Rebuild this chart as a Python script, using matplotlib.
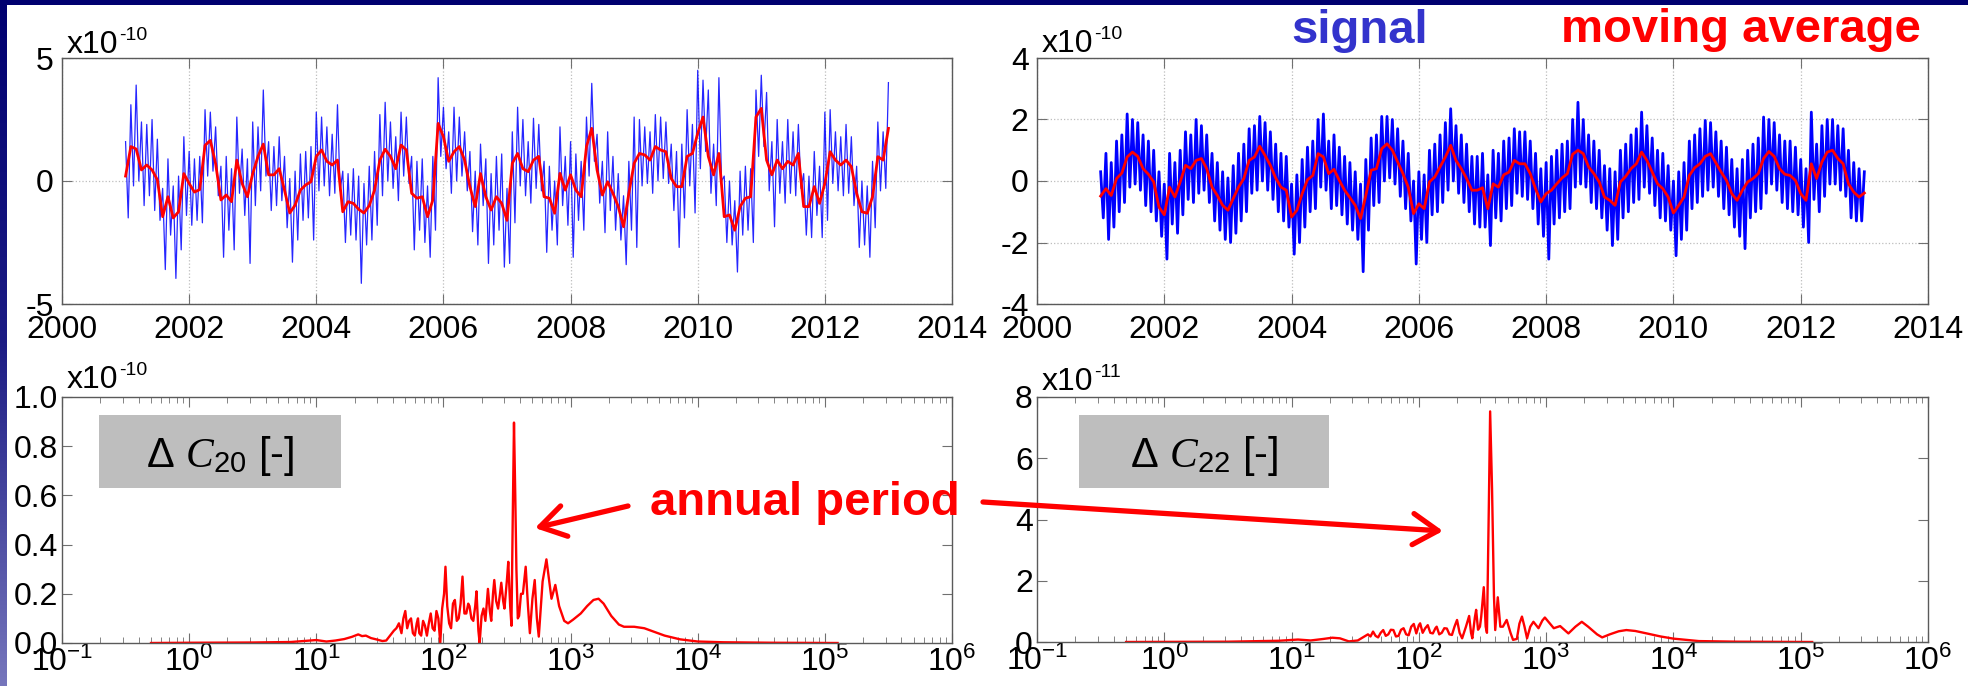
import numpy as np
import matplotlib
matplotlib.use("Agg")
import matplotlib.pyplot as plt
from matplotlib.patches import Rectangle
from matplotlib.colors import LinearSegmentedColormap
from matplotlib.ticker import FormatStrFormatter, LogLocator, NullFormatter

plt.rcParams['font.family'] = ['Liberation Sans', 'DejaVu Sans']
plt.rcParams['mathtext.fontset'] = 'custom'
plt.rcParams['mathtext.rm'] = 'Liberation Sans'
plt.rcParams['mathtext.it'] = 'Liberation Serif:italic'
plt.rcParams['mathtext.bf'] = 'Liberation Sans:bold'
plt.rcParams['axes.unicode_minus'] = False

# ---------------- data ----------------
year_ticks = [2000, 2002, 2004, 2006, 2008, 2010, 2012, 2014]
start_year = 2001

# Delta C20 signal, half-monthly samples, units 1e-10
sig_c20 = [
    1.6, -1.5, 3.1, -0.2, 3.9, 0.0, 2.4, -1.0, 2.3, -0.6, 2.5, -1.2, 1.7, -1.6, -0.3, -3.6, 0.9, -2.2, -0.2, -3.96, 0.2, -2.8, 1.8, -1.4,
    1.2, -1.8, 0.9, -1.6, 1.0, -1.7, 2.9, 0.2, 2.8, 0.4, 2.2, -0.6, 0.6, -3.1, 1.0, -2.0, 0.5, -2.8, 2.6, -0.5, 1.3, -1.4, 0.9, -3.35,
    2.4, -1.0, 2.2, -0.4, 3.7, 0.2, 1.6, -1.2, 1.4, -1.0, 1.8, -0.8, 1.0, -1.9, 0.1, -3.3, 0.4, -2.4, 1.1, -1.6, 1.2, -1.5, 1.4, -2.4,
    2.8, -0.4, 2.6, -0.2, 2.2, -0.6, 1.9, -0.5, 3.1, -0.4, 0.4, -2.5, 0.3, -2.2, 0.5, -2.4, 0.2, -4.16, -0.1, -2.6, 0.6, -2.4, 1.2, -1.8,
    2.7, -0.6, 3.2, 0.0, 2.4, -0.3, 1.8, -0.8, 2.8, 0.2, 2.6, -0.1, 1.0, -2.8, 0.8, -2.0, 0.9, -2.5, -0.2, -3.1, 1.0, -2.0, 4.2, 1.0,
    3.0, 0.5, 2.0, -0.5, 3.0, 0.0, 2.6, 0.2, 2.0, -0.4, 1.2, -2.06, 0.4, -2.6, 1.5, -1.0, 0.9, -3.35, 0.3, -2.6, 1.0, -2.0, 1.1, -3.5,
    -0.3, -3.35, 2.0, -1.7, 3.0, -0.2, 2.5, -0.6, 1.6, -0.9, 2.55, -0.3, 2.3, -0.4, 0.8, -2.9, 0.6, -2.0, 0.0, -2.6, 2.2, -1.0, 1.0, -1.8,
    1.6, -3.1, 1.1, -1.6, 0.8, -2.0, 2.6, 0.2, 3.97, 0.8, 1.9, -0.9, 0.8, -2.1, 2.0, -1.2, 1.0, -2.0, 0.3, -2.4, -0.6, -3.4, 0.8, -2.0,
    2.6, -2.7, 2.5, -0.2, 2.2, -0.1, 2.0, -0.5, 2.7, 0.0, 2.6, 0.1, 2.4, -0.1, 1.5, -1.2, 1.2, -2.7, 1.5, -1.5, 2.9, -0.2, 2.3, -1.3,
    4.5, 0.5, 4.1, 1.2, 3.7, -0.5, 1.5, -1.0, 4.2, 0.0, 0.2, -2.5, 0.0, -2.6, -0.8, -3.7, 0.4, -2.2, 0.6, -2.0, 0.5, -2.5, 3.7, 1.0,
    4.3, 1.4, 3.6, -0.4, 1.6, -1.86, 2.5, -0.5, 1.6, -0.9, 2.5, -0.5, 2.0, -0.6, 2.3, -0.3, 0.3, -2.2, 0.2, -2.3, 1.2, -1.4, 0.6, -2.3,
    2.8, -1.6, 2.9, -0.1, 2.0, -0.4, 1.8, -0.6, 2.3, -0.5, 1.8, -1.0, 0.6, -2.7, 0.0, -2.6, -0.2, -3.1, 0.8, -1.9, 2.4, -0.4, 2.0, -0.3,
    4.0]

# Delta C20 moving average, monthly samples, units 1e-10
ma_c20 = [
    0.2, 1.4, 1.3, 0.45, 0.65, 0.45, 0.05, -1.45, -0.64, -1.5, -1.25, 0.3,
    -0.1, -0.45, -0.35, 1.45, 1.65, 0.7, -0.77, -0.57, -0.84, 0.85, -0.1, -0.64,
    0.3, 1.0, 1.5, 0.25, 0.25, 0.5, -0.37, -1.3, -0.98, -0.37, -0.16, -0.03,
    1.0, 1.26, 0.8, 0.65, 0.85, -1.25, -0.84, -0.91, -1.15, -1.3, -1.0, -0.37,
    0.85, 1.29, 1.0, 0.5, 1.46, 1.26, -0.5, -0.7, -0.64, -1.45, -0.77, 2.34,
    1.8, 0.8, 1.19, 1.4, 0.85, -0.23, -1.04, 0.3, -0.64, -1.18, -0.64, -0.91,
    -1.6, 0.72, 1.12, 0.5, 0.38, 0.85, 1.0, -0.64, -0.7, -1.31, 0.31, -0.37,
    0.25, -0.37, -0.64, 1.4, 2.14, 0.45, -0.57, -0.03, -0.5, -1.04, -1.86, -0.5,
    0.72, 1.12, 1.06, 0.85, 1.4, 1.26, 1.19, 0.1, -0.23, -0.23, 1.0, 1.12,
    1.94, 2.6, 1.0, 0.25, 1.12, -1.45, -1.38, -2.0, -1.04, -0.7, -0.64, 2.6,
    2.95, 0.85, 0.25, 0.85, 0.5, 0.8, 0.65, 1.12, -1.04, -1.04, -0.23, -0.91,
    -0.1, 1.19, 0.85, 0.65, 0.85, 0.58, -0.5, -1.25, -1.31, -0.64, 0.99, 0.85,
    2.14]

# Delta C22 signal, half-monthly samples, units 1e-10
sig_c22 = [
    0.3, -1.2, 0.9, -1.9, 0.6, -1.5, 1.3, -1.0, 1.5, -0.7, 2.18, -0.2, 2.0, -0.1, 1.9, -0.3, 1.5, -0.8, 1.3, -1.0, 1.0, -1.3, 0.3, -1.8,
    -0.1, -2.54, 0.9, -1.4, 0.6, -1.7, 1.0, -1.1, 1.6, -0.6, 1.5, -0.7, 2.0, -0.4, 1.8, -0.3, 1.5, -0.7, 0.9, -1.3, 0.6, -1.6, 0.3, -1.9,
    0.1, -2.0, 0.5, -1.7, 0.9, -1.3, 1.2, -1.0, 1.7, -0.4, 1.8, -0.3, 2.1, 0.0, 1.9, -0.3, 1.6, -0.6, 1.2, -1.0, 0.9, -1.3, 0.8, -1.5,
    -0.1, -2.38, 0.2, -2.0, 0.7, -1.5, 1.1, -1.0, 1.3, -0.9, 2.0, -0.2, 2.18, -0.3, 1.3, -0.9, 1.5, -0.8, 1.1, -1.1, 0.8, -1.4, 0.6, -1.6,
    0.3, -1.9, -0.1, -2.95, 0.7, -1.6, 1.4, -0.8, 1.5, -0.7, 2.1, 0.0, 2.1, 0.1, 2.0, -0.1, 1.7, -0.5, 1.3, -0.9, 0.9, -1.3, 0.0, -2.7,
    0.3, -1.9, 0.2, -2.0, 1.0, -1.1, 1.2, -1.0, 1.5, -0.7, 1.9, -0.3, 2.35, 0.0, 1.8, -0.4, 1.5, -0.7, 1.2, -1.0, 0.8, -1.4, 0.8, -1.5,
    0.9, -1.5, 0.2, -2.1, 1.0, -1.2, 0.9, -1.3, 1.3, -0.9, 1.4, -0.8, 1.7, -0.4, 1.6, -0.5, 1.6, -0.6, 1.3, -0.9, 0.9, -1.4, 0.4, -1.8,
    0.6, -2.54, 0.8, -1.4, 1.0, -1.2, 1.2, -1.0, 1.3, -0.9, 2.0, -0.2, 2.56, -0.1, 2.0, -0.2, 1.5, -0.7, 1.3, -0.9, 1.0, -1.2, 0.5, -1.6,
    0.4, -2.1, 0.3, -1.9, 1.0, -1.2, 1.2, -1.0, 1.5, -0.7, 1.7, -0.6, 2.24, -0.2, 1.8, -0.4, 1.4, -0.8, 1.0, -1.2, 0.9, -1.3, 0.5, -1.6,
    0.0, -2.43, 0.3, -1.9, 0.6, -1.6, 1.3, -0.9, 1.5, -0.7, 1.7, -0.5, 1.97, -0.3, 1.9, -0.2, 1.6, -0.5, 1.3, -0.9, 1.1, -1.1, 0.7, -1.5,
    0.4, -1.8, 0.7, -2.2, 1.0, -1.2, 1.2, -1.0, 1.4, -0.9, 2.08, -0.4, 2.0, -0.1, 1.9, -0.3, 1.5, -0.7, 1.3, -0.9, 1.3, -1.0, 1.1, -1.1,
    0.7, -1.5, 0.4, -2.0, 2.24, -0.6, 1.2, -1.0, 1.8, -0.5, 2.0, -0.1, 2.0, -0.1, 1.8, -0.3, 1.7, -0.5, 1.0, -1.2, 0.6, -1.3, 0.4, -1.3,
    0.3]

# Delta C22 moving average, monthly samples, units 1e-10
ma_c22 = [
    -0.49, -0.25, -0.47, 0.08, 0.26, 0.78, 0.94, 0.8, 0.4, 0.22, -0.03, -0.85,
    -1.1, -0.2, -0.52, -0.03, 0.51, 0.4, 0.67, 0.73, 0.4, -0.2, -0.47, -0.79,
    -0.95, -0.57, -0.2, 0.08, 0.67, 0.78, 1.13, 0.83, 0.51, 0.1, -0.2, -0.3,
    -1.17, -0.95, -0.41, 0.04, 0.18, 0.89, 0.78, 0.24, 0.38, 0.02, -0.3, -0.54,
    -0.79, -1.22, -0.47, 0.35, 0.4, 1.05, 1.21, 1.0, 0.62, 0.24, -0.2, -1.06,
    -0.74, -0.9, -0.03, 0.13, 0.46, 0.78, 1.16, 0.67, 0.4, 0.08, -0.3, -0.3,
    -0.22, -0.9, -0.09, -0.2, 0.2, 0.29, 0.67, 0.56, 0.56, 0.24, -0.25, -0.68,
    -0.41, -0.3, -0.09, 0.1, 0.24, 0.87, 1.0, 0.89, 0.46, 0.24, -0.03, -0.52,
    -0.63, -0.79, -0.03, 0.15, 0.4, 0.56, 0.94, 0.67, 0.29, -0.09, -0.25, -0.52,
    -1.04, -0.79, -0.52, 0.18, 0.43, 0.56, 0.8, 0.89, 0.59, 0.29, 0.02, -0.41,
    -0.63, -0.3, -0.03, 0.08, 0.24, 0.73, 0.96, 0.8, 0.4, 0.22, 0.18, 0.02,
    -0.41, -0.63, 0.56, 0.08, 0.62, 0.94, 1.0, 0.73, 0.56, -0.09, -0.36, -0.52,
    -0.39]

# Spectrum of Delta C20: log10(period), amplitude (units 1e-10)
logp_c20 = [-0.3, 0.0, 0.5, 0.8, 0.9, 1.0, 1.08, 1.15, 1.22, 1.28, 1.33, 1.36, 1.39, 1.43, 1.47, 1.52, 1.55,
            1.58, 1.61, 1.63, 1.65, 1.67, 1.685, 1.70, 1.715, 1.73, 1.745, 1.76, 1.775, 1.79, 1.80, 1.81,
            1.825, 1.84, 1.855, 1.87, 1.885, 1.90, 1.915, 1.93, 1.945, 1.96, 1.975, 1.99, 2.005, 2.016,
            2.03, 2.045, 2.06, 2.075, 2.09, 2.105, 2.12, 2.135, 2.15, 2.165, 2.18, 2.195, 2.205, 2.22,
            2.235, 2.25, 2.26, 2.275, 2.285, 2.30, 2.315, 2.33, 2.35, 2.365, 2.376, 2.39, 2.40, 2.415,
            2.43, 2.445, 2.455, 2.47, 2.48, 2.50, 2.51, 2.525, 2.535, 2.545, 2.555, 2.565, 2.574, 2.585,
            2.595, 2.61, 2.625, 2.647, 2.665, 2.68, 2.70, 2.718, 2.735, 2.75, 2.78, 2.81, 2.83, 2.85,
            2.88, 2.91, 2.95, 2.98, 3.02, 3.08, 3.13, 3.18, 3.22, 3.26, 3.32, 3.38, 3.42, 3.50, 3.58,
            3.66, 3.74, 3.86, 4.0, 4.2, 4.6, 5.1]
amp_c20 = [0.0, 0.001, 0.002, 0.004, 0.008, 0.012, 0.006, 0.01, 0.016, 0.025, 0.035, 0.028, 0.03, 0.02, 0.015, 0.008, 0.01,
           0.03, 0.05, 0.06, 0.08, 0.04, 0.10, 0.13, 0.06, 0.09, 0.10, 0.04, 0.03, 0.08, 0.10, 0.04,
           0.03, 0.09, 0.07, 0.03, 0.08, 0.12, 0.06, 0.05, 0.13, 0.10, 0.0, 0.14, 0.20, 0.31,
           0.15, 0.08, 0.06, 0.16, 0.175, 0.09, 0.10, 0.16, 0.27, 0.12, 0.12, 0.16, 0.15, 0.10,
           0.09, 0.15, 0.21, 0.05, 0.0, 0.11, 0.14, 0.09, 0.22, 0.13, 0.09, 0.20, 0.256, 0.17,
           0.14, 0.20, 0.245, 0.17, 0.14, 0.26, 0.33, 0.15, 0.07, 0.50, 0.896, 0.60, 0.30, 0.10,
           0.11, 0.20, 0.20, 0.31, 0.15, 0.04, 0.18, 0.256, 0.10, 0.026, 0.25, 0.34, 0.26, 0.18,
           0.236, 0.15, 0.09, 0.08, 0.095, 0.12, 0.15, 0.175, 0.18, 0.16, 0.11, 0.075, 0.066, 0.066, 0.06,
           0.045, 0.03, 0.015, 0.006, 0.003, 0.001, 0.0]

# Spectrum of Delta C22: log10(period), amplitude (units 1e-11)
logp_c22 = [-0.3, 0.5, 0.9, 1.05, 1.15, 1.25, 1.32, 1.38, 1.45, 1.52, 1.56, 1.60, 1.62, 1.64, 1.66, 1.68,
            1.70, 1.72, 1.74, 1.76, 1.78, 1.80, 1.82, 1.84, 1.86, 1.88, 1.90, 1.92, 1.94, 1.96, 1.98,
            2.0, 2.01, 2.03, 2.05, 2.07, 2.09, 2.11, 2.13, 2.14, 2.16, 2.18, 2.20, 2.22, 2.24, 2.26,
            2.28, 2.30, 2.32, 2.34, 2.37, 2.395, 2.41, 2.42, 2.44, 2.45, 2.465, 2.48, 2.49, 2.51, 2.525,
            2.535, 2.55, 2.56, 2.575, 2.59, 2.60, 2.62, 2.64, 2.66, 2.69, 2.72, 2.74, 2.77, 2.79, 2.81,
            2.83, 2.85, 2.875, 2.90, 2.94, 2.97, 2.99, 3.02, 3.06, 3.11, 3.175, 3.23, 3.28, 3.33, 3.40,
            3.44, 3.50, 3.57, 3.63, 3.70, 3.79, 3.90, 4.0, 4.2, 4.5, 5.09]
amp_c22 = [0.0, 0.01, 0.04, 0.08, 0.05, 0.10, 0.14, 0.12, 0.02, 0.05, 0.15, 0.25, 0.18, 0.34, 0.20, 0.15,
           0.30, 0.39, 0.20, 0.25, 0.40, 0.39, 0.18, 0.20, 0.40, 0.45, 0.25, 0.22, 0.50, 0.59, 0.28,
           0.55, 0.61, 0.30, 0.45, 0.55, 0.30, 0.28, 0.45, 0.50, 0.25, 0.30, 0.45, 0.44, 0.25, 0.23,
           0.50, 0.72, 0.30, 0.12, 0.50, 0.85, 0.30, 0.12, 0.80, 1.05, 0.40, 0.50, 0.83, 1.79, 0.50,
           0.30, 4.5, 7.53, 5.0, 1.5, 0.39, 1.46, 0.50, 0.50, 0.72, 0.30, 0.07, 0.10, 0.60, 0.83,
           0.50, 0.12, 0.50, 0.66, 0.45, 0.70, 0.80, 0.65, 0.45, 0.52, 0.28, 0.50, 0.66, 0.50, 0.25,
           0.15, 0.25, 0.35, 0.39, 0.36, 0.28, 0.18, 0.11, 0.03, 0.01, 0.0]

# ---------------- figure ----------------
W, H = 1968, 686
fig = plt.figure(figsize=(W / 100, H / 100), dpi=100)
fig.patch.set_facecolor('white')

SPINE = '#5a5a5a'
TICKFS = 23


def pos(x0, y_top, x1, y_bot):
    return [x0 / W, 1 - y_bot / H, (x1 - x0) / W, (y_bot - y_top) / H]


def style(ax, xpad=8, ypad=5):
    for s in ax.spines.values():
        s.set_color(SPINE)
        s.set_linewidth(1.0)
    ax.tick_params(which='major', direction='in', top=True, right=True, length=7, width=0.8,
                   color='#707070', labelsize=TICKFS, labelcolor='black')
    ax.tick_params(which='minor', direction='in', top=True, right=True, length=4, width=0.6,
                   color='#707070')
    ax.tick_params(axis='x', pad=xpad)
    ax.tick_params(axis='y', pad=ypad)


def time_panel(rect, sig, ma, ylim, yticks, lw_sig, sig_alpha):
    ax = fig.add_axes(rect)
    t_sig = start_year + np.arange(len(sig)) / 24.0
    t_ma = start_year + np.arange(len(ma)) / 12.0
    ax.plot(t_sig, sig, color=(0, 0, 1), lw=lw_sig, alpha=sig_alpha, zorder=2)
    ax.plot(t_ma, ma, color=(1, 0, 0), lw=2.0, zorder=3)
    ax.set_xlim(year_ticks[0], year_ticks[-1])
    ax.set_ylim(*ylim)
    ax.set_xticks(year_ticks)
    ax.set_xticklabels([str(y) for y in year_ticks])
    ax.set_yticks(yticks)
    ax.set_yticklabels([str(v) for v in yticks])
    ax.grid(True, which='major', linestyle=':', color='#bdbdbd', linewidth=0.9)
    ax.set_axisbelow(True)
    style(ax, xpad=8, ypad=6)
    return ax


def spec_panel(rect, logp, amp, ylim, yticks, fmt):
    ax = fig.add_axes(rect)
    ax.plot(10 ** np.array(logp), amp, color=(1, 0, 0), lw=1.7)
    ax.set_xscale('log')
    ax.set_xlim(1e-1, 1e6)
    ax.set_ylim(*ylim)
    ax.set_yticks(yticks)
    ax.yaxis.set_major_formatter(FormatStrFormatter(fmt))
    ax.xaxis.set_major_locator(LogLocator(base=10, numticks=20))
    ax.xaxis.set_minor_locator(LogLocator(base=10, subs=np.arange(2, 10), numticks=200))
    ax.xaxis.set_minor_formatter(NullFormatter())
    style(ax, xpad=3, ypad=3)
    return ax


ax_tl = time_panel(pos(62, 58, 952, 304), sig_c20, ma_c20, (-5, 5), [-5, 0, 5], 0.9, 0.85)
ax_tr = time_panel(pos(1037, 58, 1928, 304), sig_c22, ma_c22, (-4, 4), [-4, -2, 0, 2, 4], 2.0, 1.0)
ax_bl = spec_panel(pos(62, 397, 952, 643), logp_c20, amp_c20, (0, 1.0), [0, 0.2, 0.4, 0.6, 0.8, 1.0], '%.1f')
ax_br = spec_panel(pos(1037, 397, 1928, 642), logp_c22, amp_c22, (0, 8), [0, 2, 4, 6, 8], '%d')

# multiplier labels (Matlab style): "x10" with a small raised exponent
for ax, expo, dy in [(ax_tl, '-10', 5), (ax_tr, '-10', 6), (ax_bl, '-10', 9), (ax_br, '-11', 7)]:
    ax.annotate('x10', xy=(0, 1), xycoords='axes fraction', xytext=(5, dy), textcoords='offset pixels',
                ha='left', va='baseline', fontsize=23)
    ax.annotate(expo, xy=(0, 1), xycoords='axes fraction', xytext=(57, dy + 13), textcoords='offset pixels',
                ha='left', va='baseline', fontsize=14)

# ---------------- overlay in pixel coordinates ----------------
ov = fig.add_axes([0, 0, 1, 1], zorder=10)
ov.set_xlim(0, W)
ov.set_ylim(H, 0)
ov.axis('off')

# slide background bands
cmap = LinearSegmentedColormap.from_list('band', ['#000070', '#1c1c84', '#7676bc'])
grad = np.linspace(0, 1, 256).reshape(-1, 1)
ov.imshow(grad, extent=[0, 7, H, 0], aspect='auto', cmap=cmap, zorder=1)
ov.add_patch(Rectangle((0, 0), W, 5, facecolor='#000070', edgecolor='none', zorder=2))
ov.set_xlim(0, W)
ov.set_ylim(H, 0)

# legend-like labels
ov.text(1291, 43, 'signal', color='#3333cc', fontsize=34, fontweight='bold', ha='left', va='baseline')
ov.text(1561, 42, 'moving average', color='#ff0000', fontsize=34, fontweight='bold', ha='left', va='baseline')

# gray boxes with coefficient names
for (x0, x1, label) in [(99, 341, r'Δ $C_{20}$ [-]'), (1079, 1329, r'Δ $C_{22}$ [-]')]:
    ov.add_patch(Rectangle((x0, 415), x1 - x0, 73, facecolor='#bebebe', edgecolor='none', zorder=3))
    ov.text((x0 + x1) / 2, 467, label, fontsize=30, ha='center', va='baseline', color='black', zorder=4)

# annual period annotation
ov.text(650, 515, 'annual period', color='#ff0000', fontsize=34, fontweight='bold', ha='left', va='baseline')
arrow_style = '->,head_length=0.45,head_width=0.28'
ov.annotate('', xy=(535, 528), xytext=(628, 506),
            arrowprops=dict(arrowstyle=arrow_style, color='#ff0000', lw=3.8, mutation_scale=40,
                            shrinkA=0, shrinkB=0, capstyle='round', joinstyle='round'))
ov.annotate('', xy=(1443, 531), xytext=(983, 502),
            arrowprops=dict(arrowstyle=arrow_style, color='#ff0000', lw=3.8, mutation_scale=40,
                            shrinkA=0, shrinkB=0, capstyle='round', joinstyle='round'))

fig.savefig('out.png', dpi=100, facecolor='white')
